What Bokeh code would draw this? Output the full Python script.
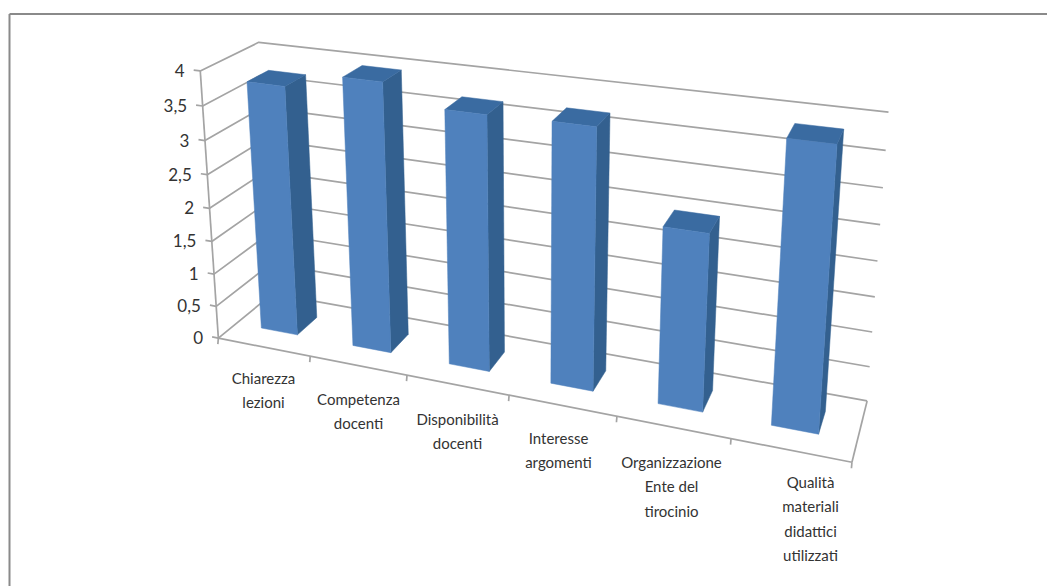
import numpy as np
from bokeh.plotting import figure
from bokeh.core.properties import value
from bokeh.embed import file_html
from bokeh.resources import INLINE

categories = [
    ["Chiarezza", "lezioni"],
    ["Competenza", "docenti"],
    ["Disponibilità", "docenti"],
    ["Interesse", "argomenti"],
    ["Organizzazione", "Ente del", "tirocinio"],
    ["Qualità", "materiali", "didattici", "utilizzati"],
]
values = [3.75, 3.98, 3.7, 3.72, 2.5, 3.87]
y_ticks = [0, 0.5, 1, 1.5, 2, 2.5, 3, 3.5, 4]
y_labels = ["0", "0,5", "1", "1,5", "2", "2,5", "3", "3,5", "4"]

# camera calibration: model point (category, depth, height) -> screen pixel
model_pts = [(0, 0, 4), (0, 0, 0), (6, 0, 0), (0, 1, 4), (0, 1, 0), (6, 1, 4), (6, 1, 0)]
screen_pts = [(200, 70), (218, 337), (851, 463), (258, 42), (272, 294), (888, 112), (867, 399)]
rows = []
for (a, b, c), (sx, sy) in zip(model_pts, screen_pts):
    rows.append([a, b, c, 1, 0, 0, 0, 0, -sx * a, -sx * b, -sx * c, -sx])
    rows.append([0, 0, 0, 0, a, b, c, 1, -sy * a, -sy * b, -sy * c, -sy])
P = np.linalg.svd(np.array(rows, float))[2][-1].reshape(3, 4)


def proj(u, d, h):
    v = P @ np.array([u, d, h, 1.0])
    return v[0] / v[2], v[1] / v[2]


W, H = 1047, 586
p = figure(width=W, height=H, x_range=(0, W), y_range=(H, 0), output_backend="svg",
           toolbar_location=None, min_border=0, outline_line_color=None)
p.axis.visible = False
p.grid.visible = False

# frame of the picture
p.multi_line([[9, 9], [9, 1047]], [[586, 13.5], [13.5, 13.5]], line_color="#8a8a8a", line_width=2)

GRID = "#a4a4a4"
xs, ys = [], []
for t in y_ticks:
    a, b, c = proj(-0.07, 0, t), proj(0, 0, t), proj(0, 1, t)
    d = proj(6, 1, t)
    xs.append([a[0], b[0], c[0], d[0]])
    ys.append([a[1], b[1], c[1], d[1]])
a, b = proj(0, 0, 0), proj(0, 0, 4)
xs.append([a[0], b[0]]); ys.append([a[1], b[1]])
a, b = proj(0, 0, 0), proj(6, 0, 0)
xs.append([a[0], b[0]]); ys.append([a[1], b[1]])
a, b = proj(6, 0, 0), proj(6, 1, 0)
xs.append([a[0], b[0]]); ys.append([a[1], b[1]])
for i in range(7):
    a = proj(i, 0, 0)
    xs.append([a[0], a[0] - 0.5]); ys.append([a[1], a[1] + 6])
p.multi_line(xs, ys, line_color=GRID, line_width=1.7)

# bars
BW, D0, D1, OFF = 0.2, 0.32, 0.7, -0.02
fx, fy, tx, ty, sx_, sy_ = [], [], [], [], [], []
for i, v in enumerate(values):
    u0, u1 = i + 0.5 + OFF - BW, i + 0.5 + OFF + BW
    f = [proj(u0, D0, v), proj(u1, D0, v), proj(u1, D0, 0), proj(u0, D0, 0)]
    t = [proj(u0, D0, v), proj(u1, D0, v), proj(u1, D1, v), proj(u0, D1, v)]
    s = [proj(u1, D0, v), proj(u1, D1, v), proj(u1, D1, 0), proj(u1, D0, 0)]
    fx.append([q[0] for q in f]); fy.append([q[1] for q in f])
    tx.append([q[0] for q in t]); ty.append([q[1] for q in t])
    sx_.append([q[0] for q in s]); sy_.append([q[1] for q in s])
p.patches(sx_, sy_, fill_color="#33608f", line_color="#33608f", line_width=0.5)
p.patches(tx, ty, fill_color="#3a6ba1", line_color="#3a6ba1", line_width=0.5)
p.patches(fx, fy, fill_color="#4f81bd", line_color="#4f81bd", line_width=0.5)

# y labels
lx, ly = [], []
for t in y_ticks:
    a = proj(-0.07, 0, t)
    lx.append(a[0] - 9); ly.append(a[1] + 0.5)
p.text(lx, ly, text=y_labels, text_font=value("Lato"), text_font_size="17px", text_color="#333333",
       text_align="right", text_baseline="middle")

# category labels
label_cx = [263, 358, 457, 558, 671, 810]
label_y0 = [377, 398, 418, 437, 461, 481]
LINE = 24.5
tx_, ty_, tt = [], [], []
for c, cx, y0 in zip(categories, label_cx, label_y0):
    for j, line in enumerate(c):
        tx_.append(cx); ty_.append(y0 + j * LINE); tt.append(line)
p.text(tx_, ty_, text=tt, text_font=value("Lato"), text_font_size="15px", text_color="#333333",
       text_align="center", text_baseline="middle")

open("out.html", "w").write(file_html(p, INLINE))
